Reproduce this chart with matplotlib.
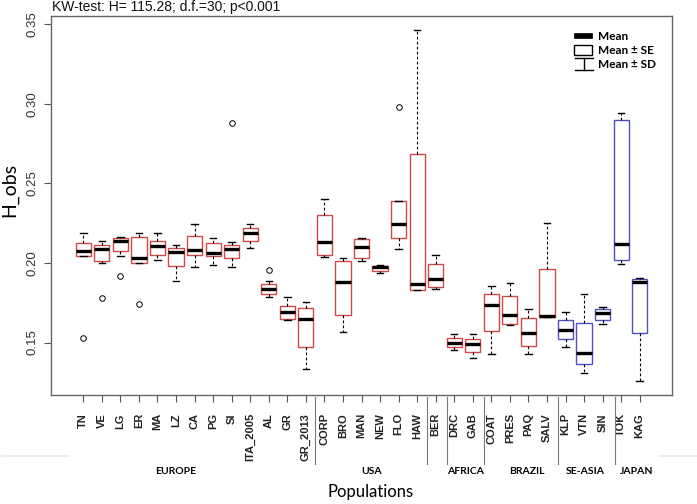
import matplotlib
matplotlib.use('Agg')
import matplotlib.pyplot as plt
import matplotlib.transforms as mtransforms
from matplotlib.lines import Line2D
from matplotlib.patches import Rectangle


# data (mean, mean +- SE box, mean +- SD whiskers)
populations = ["TN", "VE", "LG", "ER", "MA", "LZ", "CA", "PG", "SI", "ITA_2005", "AL", "GR", "GR_2013",
               "CORP", "BRO", "MAN", "NEW", "FLO", "HAW", "BER", "DRC", "GAB",
               "COAT", "PRES", "PAQ", "SALV", "KLP", "VTN", "SIN", "TOK", "KAG"]
means = [0.2077, 0.2090, 0.2136, 0.2033, 0.2107, 0.2067, 0.2084, 0.2063, 0.2088, 0.2191, 0.1834, 0.1694, 0.1646,
         0.2132, 0.1881, 0.2099, 0.1973, 0.2247, 0.1868, 0.1899, 0.1497, 0.1489,
         0.1736, 0.1673, 0.1558, 0.1667, 0.1581, 0.1434, 0.1684, 0.2120, 0.1882]
se_low = [0.2046, 0.2011, 0.2075, 0.1998, 0.2048, 0.1983, 0.2052, 0.2044, 0.2030, 0.2140, 0.1805, 0.1648, 0.1472,
          0.2050, 0.1673, 0.2033, 0.1950, 0.2159, 0.1832, 0.1847, 0.1472, 0.1442,
          0.1570, 0.1618, 0.1478, 0.1662, 0.1520, 0.1365, 0.1643, 0.2017, 0.1558]
se_high = [0.2124, 0.2111, 0.2157, 0.2165, 0.2138, 0.2094, 0.2170, 0.2128, 0.2115, 0.2220, 0.1866, 0.1730, 0.1717,
           0.2300, 0.2011, 0.2149, 0.1983, 0.2392, 0.2684, 0.1994, 0.1528, 0.1524,
           0.1807, 0.1794, 0.1652, 0.1960, 0.1640, 0.1625, 0.1709, 0.2899, 0.1897]
sd_low = [0.2042, 0.1998, 0.2042, 0.1998, 0.2019, 0.1887, 0.1977, 0.1985, 0.1977, 0.2094, 0.1784, 0.1642, 0.1333,
          0.2038, 0.1564, 0.2014, 0.1935, 0.2086, 0.1832, 0.1834, 0.1453, 0.1403,
          0.1430, 0.1610, 0.1426, 0.1662, 0.1470, 0.1306, 0.1616, 0.1994, 0.1256]
sd_high = [0.2191, 0.2140, 0.2165, 0.2187, 0.2191, 0.2111, 0.2247, 0.2155, 0.2134, 0.2247, 0.1887, 0.1788, 0.1755,
           0.2403, 0.2033, 0.2155, 0.1985, 0.2392, 0.3465, 0.2052, 0.1555, 0.1555,
           0.1855, 0.1874, 0.1713, 0.2252, 0.1692, 0.1803, 0.1721, 0.2942, 0.1906]
outliers = {"TN": [0.1526], "VE": [0.1778], "LG": [0.1920], "ER": [0.1740],
            "SI": [0.2882], "AL": [0.1956], "FLO": [0.2983]}
asian_pops = ["KLP", "VTN", "SIN", "TOK", "KAG"]
yticks = [0.15, 0.20, 0.25, 0.30, 0.35]
groups = ["EUROPE", "USA", "AFRICA", "BRAZIL", "SE-ASIA", "JAPAN"]
title = "KW-test: H= 115.28; d.f.=30; p<0.001"

# layout (x in box-position units)
group_x = [5.98, 16.55, 21.61, 24.9, 28.06, 30.86]
separator_x = [13.48, 19.53, 20.59, 22.58, 26.58, 29.67]

red = '#d24848'
blue = '#5050c4'

W, H = 697, 504
fig = plt.figure(figsize=(W / 100, H / 100), dpi=100)


def fx(px):
    return px / W


def fy(py):
    return 1 - py / H


ax = fig.add_axes([fx(51), fy(395), fx(672) - fx(51), fy(16) - fy(395)])

stats = []
for i, name in enumerate(populations):
    stats.append(dict(med=means[i], q1=se_low[i], q3=se_high[i],
                      whislo=sd_low[i], whishi=sd_high[i],
                      fliers=outliers.get(name, []), label=name))

pos = list(range(1, len(populations) + 1))
bp = ax.bxp(stats, positions=pos, widths=0.82, patch_artist=True, capwidths=0.35,
            boxprops=dict(facecolor='white', linewidth=1.0),
            medianprops=dict(color='black', linewidth=2.4, solid_capstyle='butt'),
            whiskerprops=dict(color='black', linewidth=0.8, linestyle=(0, (2.5, 2))),
            capprops=dict(color='black', linewidth=1.0),
            flierprops=dict(marker='o', markersize=4, markerfacecolor='none',
                            markeredgecolor='black', markeredgewidth=0.7))
for name, box in zip(populations, bp['boxes']):
    box.set_edgecolor(blue if name in asian_pops else red)

ax.set_xlim(-0.74, 32.74)
ax.set_ylim(0.117, 0.3553)
ax.set_yticks(yticks)
ax.set_yticklabels(['%.2f' % v for v in yticks], rotation=90, va='center',
                   fontsize=9.5, family='Liberation Sans', color='#333333')
ax.set_xticks(pos)
ax.set_xticklabels(populations, rotation=90, fontsize=8, fontweight='bold',
                   family='Liberation Sans', color='#222222')
ax.tick_params(axis='x', length=5, pad=8, color='#555555', width=0.8)
ax.tick_params(axis='y', length=5, pad=4, color='#555555', width=0.8)
for sp in ax.spines.values():
    sp.set_color('#666666')
    sp.set_linewidth(1.0)

fig.text(fx(52), fy(7.5), title, ha='left', va='center', fontsize=10,
         family='Liberation Sans', color='#111111')
fig.text(fx(10), fy(190), 'H_obs', rotation=90, ha='center', va='center',
         fontsize=14, family='Lato')
fig.text(fx(371), fy(492), 'Populations', ha='center', va='center',
         fontsize=12, family='Lato')

# group separators and labels below the axis
trans = mtransforms.blended_transform_factory(ax.transData, fig.transFigure)
for s in separator_x:
    ax.add_line(Line2D([s, s], [fy(397), fy(464)], transform=trans,
                       color='#777777', lw=0.8, clip_on=False))
for g, gx in zip(groups, group_x):
    ax.text(gx, fy(471), g, transform=trans, ha='center', va='center',
            fontsize=7.5, fontweight='bold', family='Lato')

# faint page lines
fig.add_artist(Line2D([fx(2), fx(69)], [fy(456), fy(456)], color='#ececec', lw=1.5))
fig.add_artist(Line2D([fx(659), fx(697)], [fy(456), fy(456)], color='#ececec', lw=1.5))

# hand-made legend
fig.add_artist(Rectangle((fx(574), fy(37.5)), fx(18), fy(33) - fy(37.5),
                         facecolor='black', edgecolor='black', lw=0.5))
fig.add_artist(Rectangle((fx(574), fy(55)), fx(18), fy(45) - fy(55),
                         facecolor='white', edgecolor='black', lw=1.0))
fig.add_artist(Line2D([fx(575), fx(593)], [fy(58), fy(58)], color='black', lw=1.0))
fig.add_artist(Line2D([fx(575), fx(593)], [fy(70), fy(70)], color='black', lw=1.0))
fig.add_artist(Line2D([fx(584), fx(584)], [fy(58), fy(70)], color='black', lw=1.0))
for txt, ty in zip(["Mean", "Mean \u00b1 SE", "Mean \u00b1 SD"], [36, 50, 64]):
    fig.text(fx(598), fy(ty), txt, ha='left', va='center', fontsize=8.5,
             fontweight='bold', family='Lato')

fig.savefig('out.png', dpi=100)
